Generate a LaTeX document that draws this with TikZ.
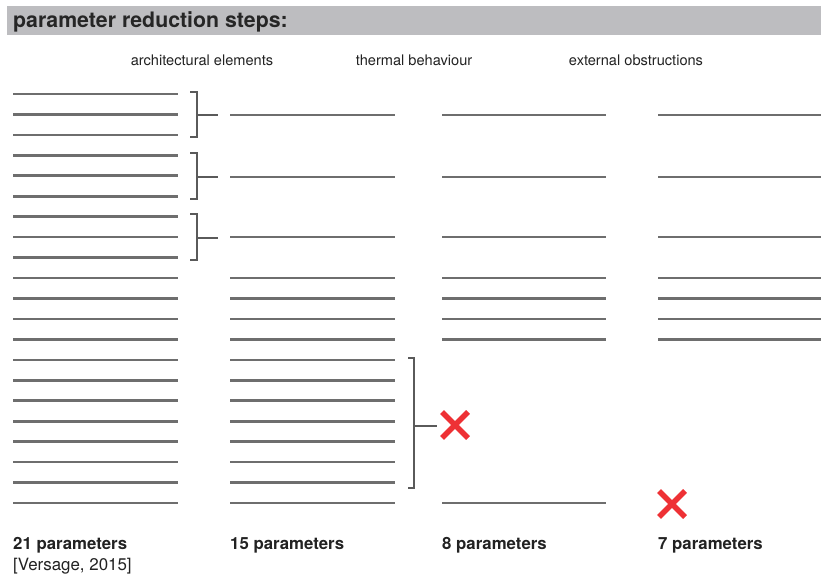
\documentclass[tikz,border=0pt]{standalone}
\usepackage{fontspec}
\setmainfont{TeX Gyre Heros}
\begin{document}
\begin{tikzpicture}[x=1pt,y=-1pt,
  param/.style={draw=paramgray,line width=2.6pt},
  brace/.style={draw=bracegray,line width=1.1pt},
  cross/.style={draw=crossred,line width=5.5pt},
  heading/.style={anchor=base west,inner sep=0pt,text=titlegray,font=\bfseries\fontsize{21.3}{24}\selectfont},
  step label/.style={anchor=base,inner sep=0pt,text=textgray,font=\fontsize{14.6}{17}\selectfont},
  count label/.style={anchor=base west,inner sep=0pt,text=textgray,font=\bfseries\fontsize{16.8}{20}\selectfont},
  source label/.style={anchor=base west,inner sep=0pt,text=textgray,font=\fontsize{16.9}{20}\selectfont}]
\definecolor{paramgray}{HTML}{6E6E6E}
\definecolor{bracegray}{HTML}{5A5A5A}
\definecolor{crossred}{HTML}{EE3135}
\definecolor{titlegray}{HTML}{262626}
\definecolor{textgray}{HTML}{222222}
\definecolor{bargray}{HTML}{BDBDC0}
\useasboundingbox (0,0) rectangle (821,577);

% title bar
\fill[bargray] (7,6) rectangle (821,35);
\node[heading] (title) at (13,27.5) {parameter reduction steps:};

% step headings
\node[step label] (arch) at (202,66) {architectural elements};
\node[step label] (therm) at (414,66) {thermal behaviour};
\node[step label] (ext) at (636,66) {external obstructions};

% column 1: all 21 parameters
\foreach \i in {0,...,20}
  \draw[param] (13,{94+20.45*\i}) -- (178,{94+20.45*\i});

% brackets grouping three parameters into one
\foreach \t/\m/\b in {92/115/137, 153/177/199, 214/238/260}{
  \draw[brace] (190,\t) -- (197,\t) -- (197,\b) -- (190,\b);
  \draw[brace] (197,\m) -- (218,\m);
}

% column 2: 15 parameters
\foreach \y in {115,177,237}
  \draw[param] (230,\y) -- (395,\y);
\foreach \i in {9,...,20}
  \draw[param] (230,{94+20.45*\i}) -- (395,{94+20.45*\i});

% bracket of the removed thermal parameters
\draw[brace] (408,358) -- (414,358) -- (414,488) -- (408,488);
\draw[brace] (414,426) -- (437,426);

% column 3: 8 parameters
\foreach \y in {115,177,237}
  \draw[param] (442,\y) -- (606,\y);
\foreach \i in {9,...,12,20}
  \draw[param] (442,{94+20.45*\i}) -- (606,{94+20.45*\i});

% column 4: 7 parameters
\foreach \y in {115,177,237}
  \draw[param] (658,\y) -- (821,\y);
\foreach \i in {9,...,12}
  \draw[param] (658,{94+20.45*\i}) -- (821,{94+20.45*\i});

% removal marks
\coordinate (x1) at (455,425);
\coordinate (x2) at (672,504);
\foreach \c in {x1,x2}{
  \draw[cross] ([shift={(-13,-13)}]\c) -- ([shift={(13,13)}]\c);
  \draw[cross] ([shift={(-13,13)}]\c) -- ([shift={(13,-13)}]\c);
}

% parameter counts
\node[count label] (c21) at (13,549) {21 parameters};
\node[source label] (src) at (13,570) {[Versage, 2015]};
\node[count label] (c15) at (230,549) {15 parameters};
\node[count label] (c8) at (442,549) {8 parameters};
\node[count label] (c7) at (658,549) {7 parameters};
\end{tikzpicture}
\end{document}
